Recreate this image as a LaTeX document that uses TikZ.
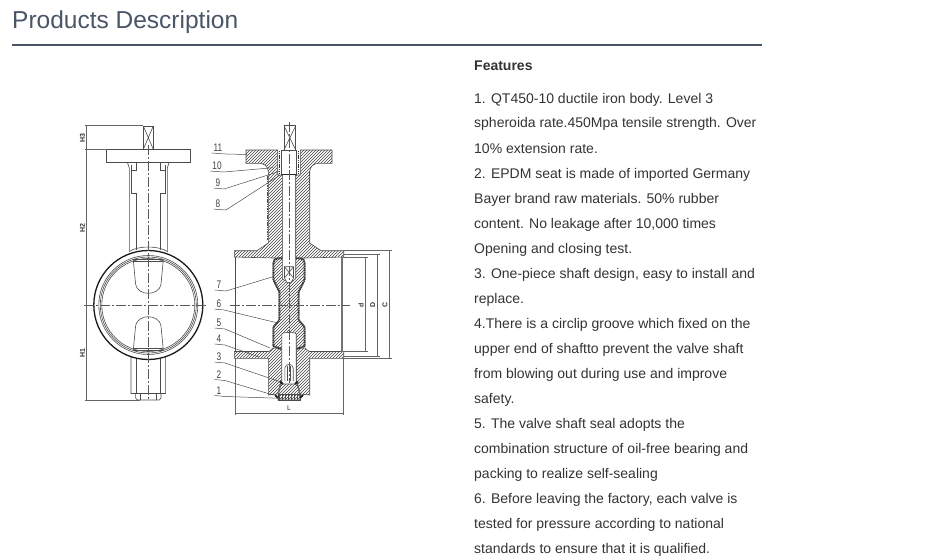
\documentclass[tikz,border=0pt]{standalone}
\usepackage{fontspec}
\setmainfont{Liberation Sans}
\usepackage{tikz}
\usetikzlibrary{patterns}
\definecolor{titlegray}{HTML}{4A5568}
\definecolor{bodygray}{HTML}{333333}
\tikzset{
  bodyline/.style={anchor=base west,font=\fontsize{14}{14}\selectfont,text=bodygray,inner sep=0pt},
  part/.style={line width=.6pt,black!70},
  thickpart/.style={line width=1.3pt,black!90},
  centerline/.style={line width=.5pt,black!65,dash pattern=on 10pt off 2pt on 2pt off 2pt},
  dimline/.style={line width=.45pt,black!60},
  leader/.style={line width=.5pt,black!70},
  hatched/.style={line width=.6pt,draw=black!70,pattern=north east lines,pattern color=black!75},
  rubber/.style={line width=1.9pt,black!80,dash pattern=on 1.1pt off .7pt},
  beads/.style={line width=.9pt,black!70,dash pattern=on 1.5pt off .8pt},
  partno/.style={font=\fontsize{11}{11}\selectfont,text=black!75,inner sep=0pt,xscale=.75},
  dimtext/.style={font=\fontsize{7}{7}\selectfont\bfseries,text=black!80,inner sep=0pt,rotate=90}
}
\begin{document}
\begin{tikzpicture}[x=1pt,y=-1pt]
\useasboundingbox (0,0) rectangle (944,559);
\node[anchor=base west,inner sep=0pt,font=\fontsize{24.5}{24.5}\selectfont,text=titlegray] (title) at (12,29) {Products Description};
\draw[line width=1.4pt,titlegray] (12,45) -- (762,45);
% features text
\node[bodyline,font=\fontsize{14}{14}\selectfont\bfseries] (feat) at (474,71) {Features};
\foreach \y/\txt in {
  103/{1. QT450-10 ductile iron body. Level 3},
  128/{spheroida rate.450Mpa tensile strength. Over},
  153/{10\% extension rate.},
  178/{2. EPDM seat is made of imported Germany},
  203/{Bayer brand raw materials. 50\% rubber},
  228/{content. No leakage after 10,000 times},
  253/{Opening and closing test.},
  278/{3. One-piece shaft design, easy to install and},
  303/{replace.},
  328/{4.There is a circlip groove which fixed on the},
  353/{upper end of shaftto prevent the valve shaft},
  378/{from blowing out during use and improve},
  403/{safety.},
  428/{5. The valve shaft seal adopts the},
  453/{combination structure of oil-free bearing and},
  478/{packing to realize self-sealing},
  503/{6. Before leaving the factory, each valve is},
  528/{tested for pressure according to national},
  553/{standards to ensure that it is qualified.}}
  \node[bodyline] at (474,\y) {\txt};
% left view
\draw[part] (106.7,149.3) rectangle (190.7,162);
\draw[part] (143.3,126) rectangle (153.3,149.3);
\draw[part] (143.3,126) -- (153.3,149.3) (153.3,126) -- (143.3,149.3);
\foreach \s in {1,-1}{
\begin{scope}[shift={(148.3,0)},xscale=\s]
\draw[part] (-21,162) .. controls (-21,165) and (-19,165) .. (-19,168) -- (-19,252);
\draw[part] (-17.3,165) -- (-17.3,193) -- (-12.3,193) -- (-12.3,250);
\draw[part] (-11.7,162) -- (-11.7,170.7) -- (-17.3,170.7);
\draw[part] (-15,260) -- (-12.7,284) .. controls (-11.5,291) and (-5,293.3) .. (0,293.3);
\draw[part] (-15,350) -- (-12.7,326) .. controls (-11.5,319) and (-5,316.7) .. (0,316.7);
\draw[part] (-17.3,357) -- (-17.3,393.5) -- (-12.7,393.5) -- (-12.7,398) -- (-11,400) -- (0,400);
\draw[part] (-11.7,358.5) -- (-11.7,393.5);
\draw[part] (-8,393.5) -- (-8,400);
\end{scope}
}
\draw[part] (129.3,251.5) .. controls (138,245.5) and (158.6,245.5) .. (167.3,251.5);
\draw[part] (133.3,259) -- (163.3,259) (133.3,261) -- (163.3,261);
\draw[part] (133.3,348) -- (163.3,348) (133.3,350) -- (163.3,350);
\draw[part] (131,393.5) -- (165.6,393.5);
\draw[thickpart] (148.3,305) circle (54.5);
\draw[part] (148.3,305) circle (49.5);
\draw[part] (148.3,305) circle (48);
\draw[part] (148.3,305) circle (46.5);
\draw[centerline] (148.3,145) -- (148.3,400);
\draw[centerline] (84,305) -- (207.3,305);
% left dimensions
\draw[dimline] (86.7,125.7) -- (86.7,400);
\draw[dimline] (85,125.7) -- (143.3,125.7);
\draw[dimline] (85,149.3) -- (106.7,149.3);
\draw[dimline] (85,400) -- (140,400);
\node[dimtext] (dimhthree) at (82.5,138) {H3};
\node[dimtext] (dimhtwo) at (82.5,228) {H2};
\node[dimtext] (dimhone) at (82.5,353) {H1};
% right view, body halves
\foreach \s in {1,-1}{
\begin{scope}[shift={(289,0)},xscale=\s]
\draw[hatched] (-43,150) -- (-11.3,150) -- (-11.3,175) -- (-6.5,175) -- (-6.5,258) -- (-16,258) -- (-54.7,257) -- (-54.7,250.7) -- (-32,250.7) -- (-20.7,243) -- (-20.7,172) .. controls (-20.7,166) and (-25,163.3) .. (-30,163.3) -- (-43,163.3) -- cycle;
\draw[hatched] (-54.7,351.5) -- (-20,351.5) -- (-16,348) -- (-7.2,348) -- (-7.2,381) -- (-9,385) -- (-11.3,394) -- (-20.7,395) -- (-20.7,358.3) -- (-54.7,358.3) -- cycle;
\end{scope}
}
\draw[beads] (267.7,176) -- (267.7,240);
\draw[beads] (309.3,172) -- (309.3,190);
% disc and seat
\draw[hatched] (289,258) -- (278,258) .. controls (275,258) and (273,260) .. (273,263) -- (273,280) -- (279,292) -- (279,320) -- (273,327) -- (273,346) -- (280,349) -- (298,349) -- (305,346) -- (305,327) -- (299,320) -- (299,292) -- (305,280) -- (305,263) .. controls (305,260) and (303,258) .. (300,258) -- cycle;
\draw[rubber] (282,258.5) -- (278,258.5) .. controls (275,258.5) and (273.5,260) .. (273.5,263) -- (273.5,280) -- (279.5,292) -- (279.5,320) -- (273.5,327) -- (273.5,346) -- (281,349);
\draw[rubber] (296,258.5) -- (300,258.5) .. controls (303,258.5) and (304.5,260) .. (304.5,263) -- (304.5,280) -- (298.5,292) -- (298.5,320) -- (304.5,327) -- (304.5,346) -- (297,349);
% shaft
\draw[part,fill=white] (281.5,150) -- (281.5,175) -- (296.5,175) -- (296.5,150) -- cycle;
\draw[line width=1.6pt,black!85] (282,175) -- (296,175);
\draw[rubber] (279.5,151) -- (279.5,174);
\draw[rubber] (298.5,151) -- (298.5,174);
\draw[part] (284,125.7) rectangle (295.7,150);
\draw[part] (284,125.7) -- (295.7,150) (295.7,125.7) -- (284,150);
\draw[part,fill=white] (282.3,175) -- (282.3,278) .. controls (282.3,282) and (295.7,282) .. (295.7,278) -- (295.7,175);
\draw[part,fill=white] (284.5,266.7) -- (293.5,266.7) -- (293.5,278) -- (291,282.7) -- (287,282.7) -- (284.5,278) -- cycle;
\draw[part] (284.5,266.7) -- (293.5,278) (293.5,266.7) -- (284.5,278);
\draw[part,fill=white] (281.8,384) -- (281.8,334) .. controls (281.8,332) and (296.2,332) .. (296.2,334) -- (296.2,384);
\draw[part] (284.8,381) -- (284.8,368) .. controls (285.5,363) and (292.5,363) .. (293.2,368) -- (293.2,381);
\draw[part] (287.3,366) -- (287.3,381) (290.7,366) -- (290.7,381);
% plug
\draw[hatched] (281,384) -- (297,384) -- (299.5,394) -- (300,400) -- (278,400) -- (278.5,394) -- cycle;
\draw[part,pattern=vertical lines,pattern color=black!70] (278,394) rectangle (300,400);
\draw[line width=2pt,black!85] (280,381.5) -- (283,384) (298,381.5) -- (295,384);
\draw[line width=2pt,black!85] (275,395) -- (278,398) (303,395) -- (300,398);
% flange faces
\draw[part] (235,257) -- (235,351.5);
\draw[line width=1.6pt,black!55] (342,257) -- (342,351.5);
\draw[centerline] (289,122) -- (289,383);
\draw[centerline] (230,305) -- (350,305);
% right dimensions
\draw[dimline] (343,250.7) -- (392,250.7);
\draw[dimline] (343,254) -- (380,254);
\draw[dimline] (343,257.3) -- (368,257.3);
\draw[dimline] (343,351.7) -- (368,351.7);
\draw[dimline] (343,356.7) -- (380,356.7);
\draw[dimline] (343,358.3) -- (392,358.3);
\draw[dimline] (365,257.3) -- (365,351.7);
\draw[dimline] (377.7,254) -- (377.7,356.7);
\draw[dimline] (389.3,250.7) -- (389.3,358.3);
\node[dimtext] (dimd) at (361,305) {d};
\node[dimtext] (dimdd) at (372.7,305) {D};
\node[dimtext] (dimc) at (385,305) {C};
\draw[dimline] (235,358.3) -- (235,415);
\draw[dimline] (343,358.3) -- (343,415);
\draw[dimline] (235,413.3) -- (343,413.3);
\node[font=\fontsize{7}{7}\selectfont,text=black!80,inner sep=0pt] (diml) at (289,408) {L};
% part numbers
\foreach \n/\nx/\ny/\ex/\tx/\ty in {
  11/218/148/226/247/154.5,
  10/217/166/224/273/167.7,
  9/218/183/224/279/171.5,
  8/218/204/226/280/175,
  7/219/285/226/273/276.7,
  6/219/304/224/276.7/322.7,
  5/219/323/225/270/348,
  4/219/339/225/258.3/356.7,
  3/219/357/225/280/381.7,
  2/219/374.5/225/273/395,
  1/219/390.5/225/281.7/398.3}{
  \node[partno] (no\n) at (\nx,\ny) {\n};
  \draw[leader] (no\n.south west) ++(-2,1) -- (\ex,\ny+6) -- (\tx,\ty);
}
\end{tikzpicture}
\end{document}
